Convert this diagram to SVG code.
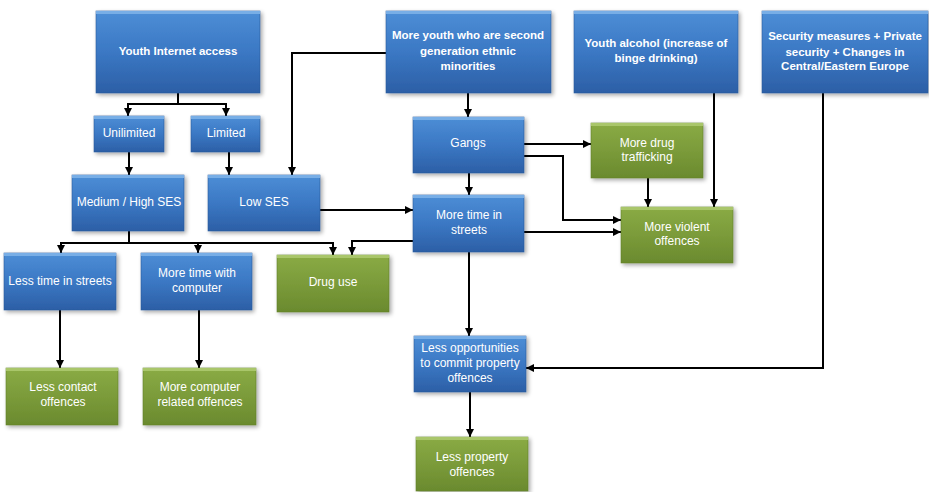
<svg xmlns="http://www.w3.org/2000/svg" width="929" height="492" viewBox="0 0 929 492">
<defs>
<linearGradient id="gb" x1="0" y1="0" x2="0" y2="1">
<stop offset="0" stop-color="#4d8ed6"/>
<stop offset="0.5" stop-color="#3b78c4"/>
<stop offset="1" stop-color="#2c5fa6"/>
</linearGradient>
<linearGradient id="gg" x1="0" y1="0" x2="0" y2="1">
<stop offset="0" stop-color="#8aab45"/>
<stop offset="0.5" stop-color="#7b9b3a"/>
<stop offset="1" stop-color="#6a8a2e"/>
</linearGradient>
<filter id="sh" x="-10%" y="-10%" width="125%" height="130%">
<feGaussianBlur in="SourceAlpha" stdDeviation="2"/>
<feOffset dx="1.5" dy="2" result="o"/>
<feComponentTransfer><feFuncA type="linear" slope="0.35"/></feComponentTransfer>
<feMerge><feMergeNode/><feMergeNode in="SourceGraphic"/></feMerge>
</filter>
<marker id="ah" markerUnits="userSpaceOnUse" markerWidth="9" markerHeight="9" refX="8" refY="4" orient="auto">
<path d="M0,0 L8,4 L0,8 z" fill="#000"/>
</marker>
</defs>
<style>
.b{fill:url(#gb);stroke:#2a5a9c;stroke-width:0.6;filter:url(#sh)}
.g{fill:url(#gg);stroke:#62802a;stroke-width:0.6;filter:url(#sh)}
.hb{fill:#78aee6}
.hg{fill:#a9c66a}
text{font-family:"Liberation Sans",Arial,sans-serif;font-size:12px;fill:#fff;text-anchor:middle}
.bd{font-weight:bold;font-size:11.5px}
.c{fill:none;stroke:#000;stroke-width:2;marker-end:url(#ah)}
.n{fill:none;stroke:#000;stroke-width:2}
</style>
<rect width="929" height="492" fill="#fff"/>

<g id="connectors">
<path class="n" d="M178,93 V104"/>
<path class="c" d="M178,104 H128 V116"/>
<path class="c" d="M178,104 H226 V116"/>
<path class="c" d="M129,152 V175"/>
<path class="c" d="M229,152 V175"/>
<path class="c" d="M386,53 H292 V175"/>
<path class="c" d="M468,93 V117"/>
<path class="c" d="M524,144 H591"/>
<path class="c" d="M524,156 H563 V220 H621"/>
<path class="c" d="M524,232 H621"/>
<path class="c" d="M648,178 V207"/>
<path class="c" d="M714,93 V207"/>
<path class="c" d="M469,173 V195"/>
<path class="c" d="M320,210 H413"/>
<path class="n" d="M129,231 V243"/>
<path class="c" d="M129,243 H61 V253"/>
<path class="c" d="M198,243 V253"/>
<path class="c" d="M129,243 H333 V255"/>
<path class="c" d="M413,241 H352 V255"/>
<path class="c" d="M60,310 V368"/>
<path class="c" d="M199,310 V368"/>
<path class="c" d="M469,252 V336"/>
<path class="c" d="M823,93 V368 H526"/>
<path class="c" d="M470,392 V437"/>
</g>

<g id="youth-internet">
<rect class="b" x="96" y="11" width="164" height="82"/><rect class="hb" x="96" y="11" width="164" height="3"/>
<text class="bd" x="178" y="55">Youth Internet access</text>
</g>
<g id="unlimited">
<rect class="b" x="94" y="116" width="70" height="36"/><rect class="hb" x="94" y="116" width="70" height="3"/>
<text x="129" y="137">Unilimited</text>
</g>
<g id="limited">
<rect class="b" x="191" y="116" width="69" height="36"/><rect class="hb" x="191" y="116" width="69" height="3"/>
<text x="226" y="137">Limited</text>
</g>
<g id="medium-high-ses">
<rect class="b" x="72" y="175" width="112" height="56"/><rect class="hb" x="72" y="175" width="112" height="3"/>
<text x="129" y="206">Medium / High SES</text>
</g>
<g id="low-ses">
<rect class="b" x="208" y="175" width="112" height="56"/><rect class="hb" x="208" y="175" width="112" height="3"/>
<text x="264" y="206">Low SES</text>
</g>
<g id="second-generation">
<rect class="b" x="386" y="11" width="165" height="82"/><rect class="hb" x="386" y="11" width="165" height="3"/>
<text class="bd" x="468" y="39">More youth who are second</text>
<text class="bd" x="468" y="55">generation ethnic</text>
<text class="bd" x="468" y="70">minorities</text>
</g>
<g id="youth-alcohol">
<rect class="b" x="574" y="11" width="164" height="82"/><rect class="hb" x="574" y="11" width="164" height="3"/>
<text class="bd" x="656" y="47">Youth alcohol (increase of</text>
<text class="bd" x="656" y="62">binge drinking)</text>
</g>
<g id="security">
<rect class="b" x="762" y="11" width="166" height="82"/><rect class="hb" x="762" y="11" width="166" height="3"/>
<text class="bd" x="845" y="40">Security measures + Private</text>
<text class="bd" x="845" y="56">security + Changes in</text>
<text class="bd" x="845" y="70">Central/Eastern Europe</text>
</g>
<g id="gangs">
<rect class="b" x="413" y="117" width="111" height="56"/><rect class="hb" x="413" y="117" width="111" height="3"/>
<text x="468" y="147">Gangs</text>
</g>
<g id="drug-trafficking">
<rect class="g" x="591" y="123" width="112" height="55"/><rect class="hg" x="591" y="123" width="112" height="3"/>
<text x="647" y="147">More drug</text>
<text x="647" y="161">trafficking</text>
</g>
<g id="violent-offences">
<rect class="g" x="621" y="207" width="112" height="56"/><rect class="hg" x="621" y="207" width="112" height="3"/>
<text x="677" y="231">More violent</text>
<text x="677" y="245">offences</text>
</g>
<g id="more-time-streets">
<rect class="b" x="413" y="195" width="111" height="57"/><rect class="hb" x="413" y="195" width="111" height="3"/>
<text x="469" y="219">More time in</text>
<text x="469" y="234">streets</text>
</g>
<g id="less-time-streets">
<rect class="b" x="4" y="253" width="112" height="57"/><rect class="hb" x="4" y="253" width="112" height="3"/>
<text x="60" y="285">Less time in streets</text>
</g>
<g id="time-computer">
<rect class="b" x="141" y="253" width="111" height="57"/><rect class="hb" x="141" y="253" width="111" height="3"/>
<text x="197" y="277">More time with</text>
<text x="197" y="292">computer</text>
</g>
<g id="drug-use">
<rect class="g" x="277" y="255" width="112" height="57"/><rect class="hg" x="277" y="255" width="112" height="3"/>
<text x="333" y="286">Drug use</text>
</g>
<g id="less-contact">
<rect class="g" x="6" y="368" width="112" height="57"/><rect class="hg" x="6" y="368" width="112" height="3"/>
<text x="63" y="391">Less contact</text>
<text x="63" y="406">offences</text>
</g>
<g id="computer-offences">
<rect class="g" x="143" y="368" width="113" height="57"/><rect class="hg" x="143" y="368" width="113" height="3"/>
<text x="200" y="391">More computer</text>
<text x="200" y="406">related offences</text>
</g>
<g id="less-opportunities">
<rect class="b" x="414" y="336" width="112" height="56"/><rect class="hb" x="414" y="336" width="112" height="3"/>
<text x="470" y="352">Less opportunities</text>
<text x="470" y="367">to commit property</text>
<text x="470" y="382">offences</text>
</g>
<g id="less-property">
<rect class="g" x="416" y="437" width="112" height="54"/><rect class="hg" x="416" y="437" width="112" height="3"/>
<text x="472" y="461">Less property</text>
<text x="472" y="476">offences</text>
</g>
</svg>
